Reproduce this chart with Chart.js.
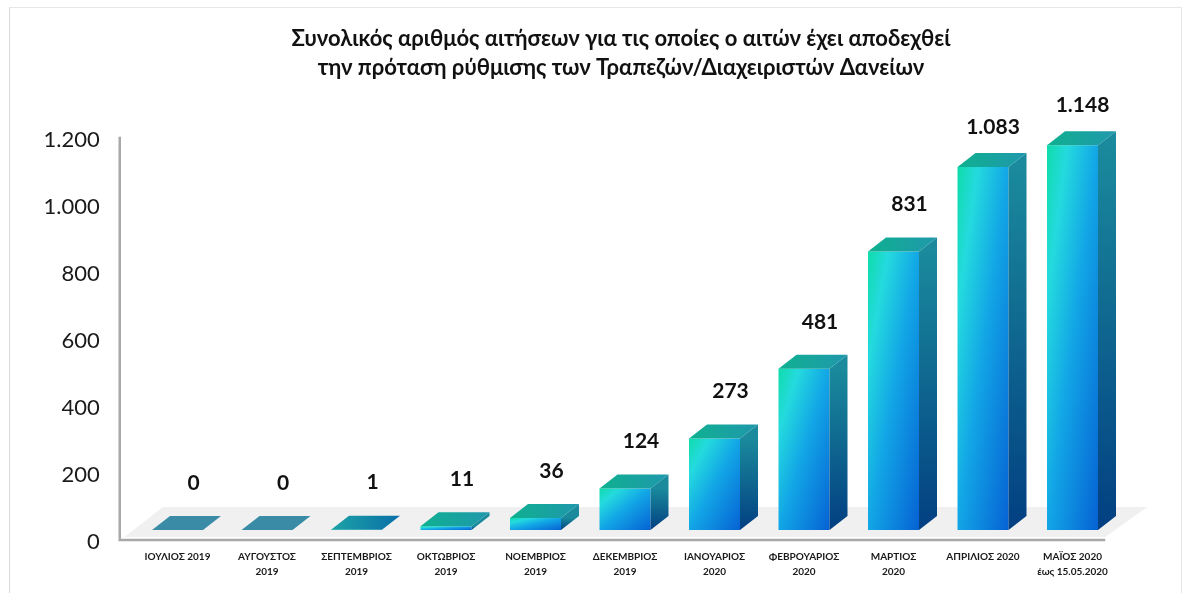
<!DOCTYPE html>
<html><head><meta charset="utf-8">
<style>html,body{margin:0;padding:0;background:#fff}
#wrap{position:absolute;left:0;top:0;width:1182px;height:593px;overflow:hidden}
#frame{position:absolute;left:9px;top:7px;width:1171px;height:590px;border-left:1px solid #d9d9d9;border-top:1px solid #e6e6e6;border-right:1px solid #e6e6e6}
canvas{position:absolute;left:0;top:0}
</style>
<script src="https://cdn.jsdelivr.net/npm/chart.js@4"></script>
</head><body><div id="wrap"><div id="frame"></div><canvas id="c" width="1182" height="593"></canvas></div>
<script>
const categories=[["ΙΟΥΛΙΟΣ 2019"],["ΑΥΓΟΥΣΤΟΣ","2019"],["ΣΕΠΤΕΜΒΡΙΟΣ","2019"],["ΟΚΤΩΒΡΙΟΣ","2019"],["ΝΟΕΜΒΡΙΟΣ","2019"],["ΔΕΚΕΜΒΡΙΟΣ","2019"],["ΙΑΝΟΥΑΡΙΟΣ","2020"],["ΦΕΒΡΟΥΑΡΙΟΣ","2020"],["ΜΑΡΤΙΟΣ","2020"],["ΑΠΡΙΛΙΟΣ 2020"],["ΜΑΪΟΣ 2020","έως 15.05.2020"]];
const values=[0,0,1,11,36,124,273,481,831,1083,1148];
const yTicks=[0,200,400,600,800,1000,1200];
const titleLines=["Συνολικός αριθμός αιτήσεων για τις οποίες ο αιτών έχει αποδεχθεί","την πρόταση ρύθμισης των Τραπεζών/Διαχειριστών Δανείων"];
const fmt=v=>String(v).replace(/\B(?=(\d{3})+$)/g,".");
const FONT='Lato, "Open Sans", "Noto Sans", sans-serif';
const DX=18,DY=14;
const threeD={id:'threeD',
 afterLayout(ch){if(ch.titleBlock){ch.titleBlock.left=60;ch.titleBlock.right=1182;}},
 beforeDatasetsDraw(ch){const {ctx,chartArea:a}=ch;ctx.save();
  ctx.fillStyle='#f0f0f0';ctx.beginPath();
  ctx.moveTo(a.left-8,a.bottom+7);ctx.lineTo(a.left+30,a.bottom-23);ctx.lineTo(a.right+30,a.bottom-23);ctx.lineTo(a.right-12,a.bottom+7);ctx.closePath();ctx.fill();
  ctx.strokeStyle='#a8a8a8';ctx.lineWidth=2.5;ctx.beginPath();
  ctx.moveTo(a.left-13,a.top+9);ctx.lineTo(a.left-13,a.bottom+10);ctx.lineTo(a.right-12,a.bottom+10);ctx.stroke();
  ctx.restore();},
 afterDatasetsDraw(ch){const {ctx}=ch;const m=ch.getDatasetMeta(0);ctx.save();
  m.data.forEach((b,i)=>{const w=b.width,l=b.x-w/2,r=b.x+w/2,t=b.y,bot=b.base,v=values[i];
   if(bot-t>0.5){
    const s=ctx.createLinearGradient(0,t,0,bot);s.addColorStop(0,'#1a8a9c');s.addColorStop(1,'#023f82');ctx.fillStyle=s;ctx.beginPath();ctx.moveTo(r,t);ctx.lineTo(r+DX,t-DY);ctx.lineTo(r+DX,bot-DY);ctx.lineTo(r,bot);ctx.closePath();ctx.fill();}
   const tg=ctx.createLinearGradient(l,0,r+DX,0);
   if(v===0){tg.addColorStop(0,'#3a8ca6');tg.addColorStop(1,'#3a8ca6');}
   else if(v<5){tg.addColorStop(0,'#1ca3a6');tg.addColorStop(1,'#0a6fa8');}
   else{tg.addColorStop(0,'#0fb090');tg.addColorStop(1,'#2098ac');}
   ctx.fillStyle=tg;ctx.beginPath();ctx.moveTo(l,t);ctx.lineTo(l+DX,t-DY);ctx.lineTo(r+DX,t-DY);ctx.lineTo(r,t);ctx.closePath();ctx.fill();
   ctx.fillStyle='#111';ctx.font='bold 21px '+FONT;ctx.textAlign='center';ctx.textBaseline='middle';
   const big=v>1000;ctx.fillText(fmt(v),b.x+(big?10:16),t-(big?40:47));
  });
  ctx.restore();}
};
function frontFill(c){
 const {chart}=c;const a=chart.chartArea;if(!a)return '#12a4e6';
 const cw=(a.right-a.left)/categories.length,w=cw*51/89.5;
 const x=chart.scales.x.getPixelForValue(c.dataIndex)-w/2;
 const t=chart.scales.y.getPixelForValue(values[c.dataIndex]),h=Math.max(chart.scales.y.getPixelForValue(0)-t,1);
 const d=w*w+h*h;
 const g=chart.ctx.createLinearGradient(x,t,x+2*w*h*h/d,t+2*w*w*h/d);
 g.addColorStop(0,'#0fdcaa');g.addColorStop(.2,'#24dade');g.addColorStop(.5,'#12a6e6');g.addColorStop(1,'#0662d4');return g;
}
new Chart(document.getElementById('c'),{type:'bar',plugins:[threeD],
 data:{labels:categories,datasets:[{data:values,barPercentage:1,categoryPercentage:51/89.5,borderWidth:0,backgroundColor:frontFill}]},
 options:{responsive:false,animation:false,
  layout:{padding:{left:0,right:1182-1117.25,top:0,bottom:14}},
  plugins:{legend:{display:false},tooltip:{enabled:false},
   title:{display:true,text:titleLines,color:'#111',font:{family:FONT,size:22,weight:'bold',lineHeight:1.33},padding:{top:24,bottom:45.3}}},
  scales:{
   x:{afterFit(s){s.height=49;},grid:{display:false},border:{display:false},ticks:{padding:11,autoSkip:false,maxRotation:0,color:'#1a1a1a',font:{family:FONT,size:10,weight:'bold',lineHeight:1.5}}},
   y:{min:0,max:1200,afterFit(s){s.width=132.75;},grid:{display:false},border:{display:false},afterBuildTicks(s){s.ticks=yTicks.map(v=>({value:v}));},
    ticks:{padding:25,labelOffset:12,color:'#1a1a1a',font:{family:FONT,size:22},callback:v=>fmt(v)}}
  }}});
</script></body></html>
